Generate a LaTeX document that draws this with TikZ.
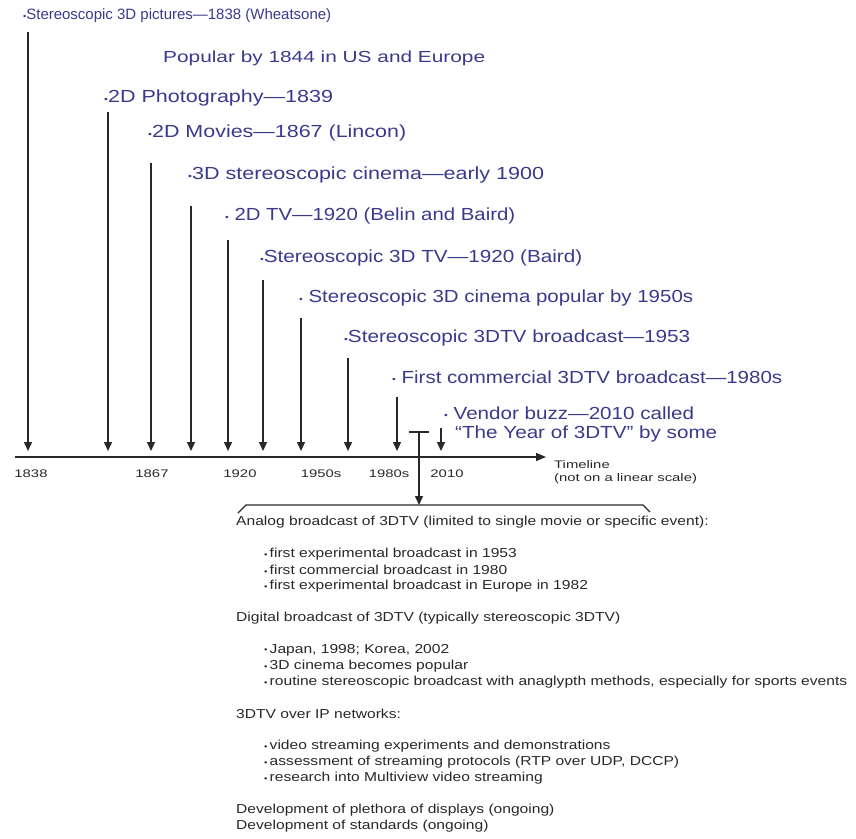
\documentclass[tikz,border=0pt]{standalone}
\usepackage{fontspec}
\setmainfont{Liberation Sans}
\newfontfamily\notefont[FakeStretch=1.2]{Liberation Sans}
\newfontfamily\tickfont[FakeStretch=1.35]{Liberation Sans}
\usetikzlibrary{arrows.meta}
\definecolor{evblue}{RGB}{58,58,140}
\definecolor{inkgray}{RGB}{40,40,40}
\newcommand{\evdot}{{\fontsize{9}{9}\selectfont\raisebox{0.5pt}{•}}}
\newcommand{\lidot}{{\fontsize{8}{8}\selectfont\raisebox{0.3pt}{•}}\,}
% caption set at a given size and stretched sideways to a given width
\newcommand{\evtext}[3]{{\fontsize{#1}{#1}\selectfont\resizebox{#2pt}{\height}{#3}}}
\begin{document}
\begin{tikzpicture}[x=1pt,y=-1pt,
  event/.style={anchor=west,inner sep=0pt,text=evblue},
  tick/.style={anchor=center,inner sep=0pt,text=inkgray,font=\tickfont\fontsize{11}{13}\selectfont},
  note/.style={anchor=west,inner sep=0pt,text=inkgray,font=\notefont\fontsize{13}{15}\selectfont},
  evarrow/.style={draw=inkgray,line width=1.4pt,-{Triangle[width=8pt,length=9pt]}},
  axis/.style={draw=inkgray,line width=1.3pt,-{Triangle[width=8pt,length=10pt]}},
  plain/.style={draw=inkgray,line width=1.3pt}]
\useasboundingbox (0,0) rectangle (856,838);

% event captions
\node[event] (e1) at (23,16) {\evtext{15}{308}{\evdot Stereoscopic 3D pictures---1838 (Wheatsone)}};
\node[event] (pop) at (163,58) {\evtext{16}{322}{Popular by 1844 in US and Europe}};
\node[event] (e2) at (104,98) {\evtext{17.5}{229}{\evdot 2D Photography---1839}};
\node[event] (e3) at (148,133) {\evtext{17.5}{258}{\evdot 2D Movies---1867 (Lincon)}};
\node[event] (e4) at (188,175) {\evtext{17.5}{356}{\evdot 3D stereoscopic cinema---early 1900}};
\node[event] (e5) at (225,216) {\evtext{17.5}{290}{\evdot\ 2D TV---1920 (Belin and Baird)}};
\node[event] (e6) at (260,258) {\evtext{17.5}{322}{\evdot Stereoscopic 3D TV---1920 (Baird)}};
\node[event] (e7) at (299,298) {\evtext{17.5}{394}{\evdot\ Stereoscopic 3D cinema popular by 1950s}};
\node[event] (e8) at (344,338) {\evtext{17.5}{346}{\evdot Stereoscopic 3DTV broadcast---1953}};
\node[event] (e9) at (392,377) {\evtext{17.5}{390}{\evdot\ First commercial 3DTV broadcast---1980s}};
\node[event] (e10a) at (444,413) {\evtext{17.5}{250}{\evdot\ Vendor buzz---2010 called}};
\node[event] (e10b) at (455,434) {\evtext{17.5}{262}{``The Year of 3DTV'' by some}};

% arrow ends
\foreach \i/\x/\top in {1/28/32, 2/108/112, 3/151/163, 4/191/206, 5/228/240,
                        6/263/280, 7/301/318, 8/348/358, 9/397/397, 10/441/428} {
  \coordinate (top\i) at (\x,\top);
  \coordinate (hit\i) at (\x,451);
}
\foreach \i in {1,...,10} { \draw[evarrow] (top\i) -- (hit\i); }

% timeline axis
\coordinate (axstart) at (15,457);
\coordinate (axend) at (546,457);
\draw[axis] (axstart) -- (axend);
\node[tick] (y1838) at (31,474) {1838};
\node[tick] (y1867) at (152,474) {1867};
\node[tick] (y1920) at (240,474) {1920};
\node[tick] (y1950) at (321,474) {1950s};
\node[tick] (y1980) at (389,474) {1980s};
\node[tick] (y2010) at (447,474) {2010};
\node[tick,anchor=west] (tl1) at (554,465) {Timeline};
\node[tick,anchor=west] (tl2) at (554,479) {(not on a linear scale)};

% bracket gathering the recent period
\coordinate (capL) at (409,432);
\coordinate (capR) at (429,432);
\coordinate (capM) at (419,432);
\coordinate (brM) at (419,505);
\draw[plain] (capL) -- (capR);
\draw[evarrow] (capM) -- (brM);
\coordinate (brA) at (238,513);
\coordinate (brB) at (246,505);
\coordinate (brC) at (643,505);
\coordinate (brD) at (650,512);
\draw[plain,line width=1.1pt] (brA) -- (brB) -- (brC) -- (brD);

% details
\node[note] (h1) at (236,522) {Analog broadcast of 3DTV (limited to single movie or specific event):};
\node[note] (a1) at (264,554) {\lidot first experimental broadcast in 1953};
\node[note] (a2) at (264,570) {\lidot first commercial broadcast in 1980};
\node[note] (a3) at (264,586) {\lidot first experimental broadcast in Europe in 1982};
\node[note] (h2) at (236,618) {Digital broadcast of 3DTV (typically stereoscopic 3DTV)};
\node[note] (b1) at (264,650) {\lidot Japan, 1998; Korea, 2002};
\node[note] (b2) at (264,666) {\lidot 3D cinema becomes popular};
\node[note] (b3) at (264,682) {\lidot routine stereoscopic broadcast with anaglypth methods, especially for sports events};
\node[note] (h3) at (236,714) {3DTV over IP networks:};
\node[note] (c1) at (264,746) {\lidot video streaming experiments and demonstrations};
\node[note] (c2) at (264,762) {\lidot assessment of streaming protocols (RTP over UDP, DCCP)};
\node[note] (c3) at (264,778) {\lidot research into Multiview video streaming};
\node[note] (d1) at (236,810) {Development of plethora of displays (ongoing)};
\node[note] (d2) at (236,826) {Development of standards (ongoing)};
\end{tikzpicture}
\end{document}
